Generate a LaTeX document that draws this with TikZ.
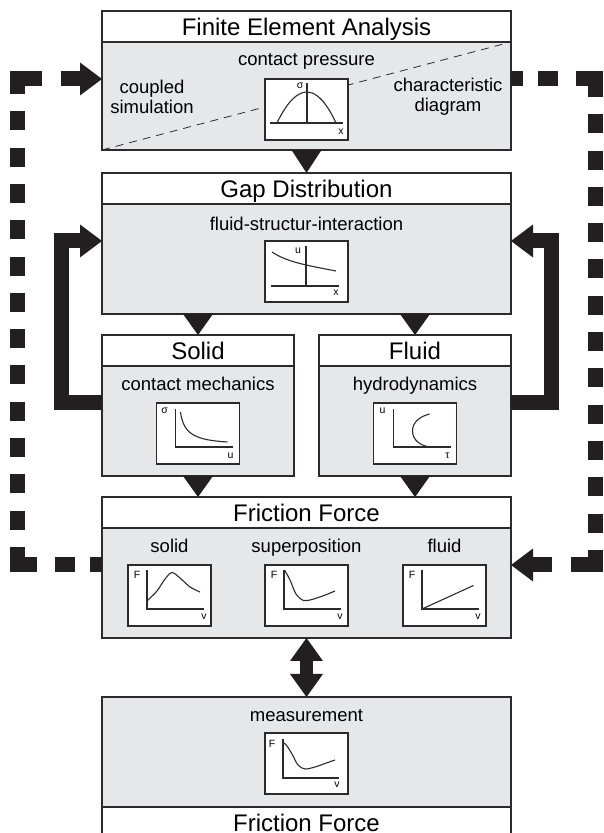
\documentclass[tikz,border=0pt]{standalone}
\usepackage{fontspec}
\setmainfont{Liberation Sans}
\usetikzlibrary{positioning, arrows.meta}

\definecolor{bodygray}{RGB}{230,231,232}
\definecolor{boxline}{RGB}{45,42,43}
\definecolor{arrowfill}{RGB}{35,31,32}

\tikzset{
  header/.style={draw=boxline, fill=white, line width=1.2pt, minimum width=409pt,
    minimum height=31pt, inner sep=0pt, outer sep=0pt, text height=17.2pt, text depth=0pt,
    font=\fontsize{24}{24}\selectfont},
  body/.style={draw=boxline, fill=bodygray, line width=1.2pt, minimum width=409pt,
    minimum height=110pt, inner sep=0pt, outer sep=0pt},
  half/.style={minimum width=192pt},
  lbl/.style={font=\fontsize{18.5}{20}\selectfont, inner sep=0pt, anchor=base},
  chart/.style={draw=boxline, fill=white, line width=1.3pt, minimum width=83pt,
    minimum height=61pt, inner sep=0pt, outer sep=0pt},
  axis/.style={draw=boxline, line width=1.1pt},
  curve/.style={draw=boxline, line width=1.1pt},
  tick/.style={font=\fontsize{10.5}{10.5}\selectfont, inner sep=0pt},
  diag/.style={draw=boxline, line width=0.8pt, dash pattern=on 8pt off 6pt},
  flow/.style={draw=arrowfill, line width=0.1pt,
    arrows={-Triangle[width=30pt,length=#1,line width=0pt]}},
  dbl/.style={draw=arrowfill, line width=13pt,
    arrows={Triangle[width=33pt,length=23pt,line width=0pt]-Triangle[width=33pt,length=23pt,line width=0pt]}},
  bracket/.style={draw=arrowfill, line width=15pt, line join=miter,
    arrows={-Triangle[width=33pt,length=22pt,line width=0pt]}},
  loopline/.style={draw=arrowfill, line width=15pt, line join=miter,
    dash pattern=on 12pt off 15pt on 20pt off 18pt on 37.5pt
      off 17.3pt on 19pt off 17.3pt on 19pt off 17.3pt on 19pt off 17.3pt on 19pt
      off 17.3pt on 19pt off 17.3pt on 19pt off 17.3pt on 19pt off 17.3pt on 19pt
      off 17.3pt on 19pt off 17.3pt on 19pt off 17.3pt on 19pt off 17.3pt on 19pt
      off 17.3pt on 39.5pt off 19pt on 60pt off 100pt,
    arrows={-Triangle[width=33pt,length=22pt,line width=0pt]}}
}

\begin{document}
\begin{tikzpicture}[x=1pt, y=1pt]
  \useasboundingbox (0,0) rectangle (603,833);

  % Define boxes
  \node[header] (feaT) at (306.5,806.5) {Finite Element Analysis};
  \node[body, minimum height=108pt, below=0pt of feaT] (fea) {};
  \node[header, below=23pt of fea] (gapT) {Gap Distribution};
  \node[body, below=0pt of gapT] (gap) {};
  \node[header, half, below=21pt of gap.south west, anchor=north west] (solidT) {Solid};
  \node[body, half, below=0pt of solidT] (solid) {};
  \node[header, half, below=21pt of gap.south east, anchor=north east] (fluidT) {Fluid};
  \node[body, half, below=0pt of fluidT] (fluid) {};
  \node[header, below=21pt of solid.south west, anchor=north west] (fricT) {Friction Force};
  \node[body, below=0pt of fricT] (fric) {};
  \node[body, below=59pt of fric] (meas) {};
  \node[header, below=0pt of meas] (measT) {Friction Force};

  % Diagonal in the analysis box
  \draw[diag] (fea.south west) -- (fea.north east);

  % Ports
  \coordinate (feaW) at ([yshift=-37pt]fea.north west);
  \coordinate (feaE) at ([yshift=-37pt]fea.north east);
  \coordinate (gapW) at ([yshift=-37pt]gap.north west);
  \coordinate (gapE) at ([yshift=-37pt]gap.north east);
  \coordinate (solidW) at ([yshift=-37pt]solid.north west);
  \coordinate (fluidE) at ([yshift=-37pt]fluid.north east);
  \coordinate (fricW) at ([yshift=-37pt]fric.north west);
  \coordinate (fricE) at ([yshift=-37pt]fric.north east);

  % Connect the boxes
  \draw[flow=23pt] (fea.south) -- (gapT.north);
  \draw[flow=21pt] (solidT.north |- gap.south) -- (solidT.north);
  \draw[flow=21pt] (fluidT.north |- gap.south) -- (fluidT.north);
  \draw[flow=21pt] (solid.south) -- (solid.south |- fricT.north);
  \draw[flow=21pt] (fluid.south) -- (fluid.south |- fricT.north);
  \draw[dbl] (fric.south) -- (meas.north);
  \draw[bracket] (solidW) -- ++(-40.5,0) |- (gapW);
  \draw[bracket] (fluidE) -- ++(40.5,0) |- (gapE);
  \draw[loopline] (fricW) -- ++(-84.5,0) |- (feaW);
  \draw[loopline] (feaE) -- ++(84.5,0) |- (fricE);

  % Labels
  \node[lbl] at ([yshift=-24pt]fea.north) {contact pressure};
  \node[lbl, anchor=center, align=center] at ([xshift=50pt,yshift=-55pt]fea.north west) {coupled\\simulation};
  \node[lbl, anchor=center, align=center] at ([xshift=-63pt,yshift=-55pt]fea.north east) {characteristic\\diagram};
  \node[lbl] at ([yshift=-27pt]gap.north) {fluid-structur-interaction};
  \node[lbl] at ([yshift=-25pt]solid.north) {contact mechanics};
  \node[lbl] at ([yshift=-25pt]fluid.north) {hydrodynamics};
  \node[lbl] at ([xshift=-137pt,yshift=-25pt]fric.north) {solid};
  \node[lbl] at ([yshift=-25pt]fric.north) {superposition};
  \node[lbl] at ([xshift=138pt,yshift=-25pt]fric.north) {fluid};
  \node[lbl] at ([yshift=-25pt]meas.north) {measurement};

  % Charts
  \node[chart, below=37pt of fea.north] (feachart) {};
  \node[chart, below=37pt of gap.north] (gapchart) {};
  \node[chart, below=37pt of solid.north] (solidchart) {};
  \node[chart, below=37pt of fluid.north] (fluidchart) {};
  \node[chart, below=37pt of fric.north, xshift=-137pt] (fsolidchart) {};
  \node[chart, below=37pt of fric.north] (fsupchart) {};
  \node[chart, below=37pt of fric.north, xshift=138pt] (ffluidchart) {};
  \node[chart, below=36pt of meas.north] (measchart) {};

  \begin{scope}[shift={(feachart.south west)}]
    \draw[axis] (5,17) -- (78,17);
    \draw[axis] (42,17) -- (42,57);
    \draw[curve] (12,17) parabola bend (42,48) (71,17);
    \node[tick] at (35,54) {σ};
    \node[tick] at (76,8) {x};
  \end{scope}
  \begin{scope}[shift={(gapchart.south west)}]
    \draw[axis] (6,16) -- (74,16);
    \draw[axis] (41,16) -- (41,56);
    \draw[curve] (7,50) .. controls (22,40) and (40,37) .. (71,31);
    \node[tick] at (33,51) {u};
    \node[tick] at (71,9) {x};
  \end{scope}
  \begin{scope}[shift={(solidchart.south west)}]
    \draw[axis] (19,55) -- (19,17) -- (76,17);
    \draw[curve] (24,52) .. controls (27,30) and (38,24) .. (71,22);
    \node[tick] at (8,53) {σ};
    \node[tick] at (74,8) {u};
  \end{scope}
  \begin{scope}[shift={(fluidchart.south west)}]
    \draw[axis] (20,55) -- (20,17) -- (77,17);
    \draw[curve] (56,50) to[out=195,in=90] (39,33) to[out=-90,in=175] (57,17);
    \node[tick] at (9,53) {u};
    \node[tick] at (74,8) {τ};
  \end{scope}
  \begin{scope}[shift={(fsolidchart.south west)}]
    \draw[axis] (19,56) -- (19,17) -- (76,17);
    \draw[curve] plot[smooth] coordinates {(19,25) (29,35) (37,47) (44,53.5) (52,48) (62,39) (72,34)};
    \node[tick] at (9,51) {F};
    \node[tick] at (76,9) {v};
  \end{scope}
  \begin{scope}[shift={(fsupchart.south west)}]
    \draw[axis] (19,56) -- (19,17) -- (76,17);
    \draw[curve] plot[smooth] coordinates {(19.5,56) (25,46) (31,32) (38.5,25.5) (47,26.5) (59,30.5) (70,35)};
    \node[tick] at (9,51) {F};
    \node[tick] at (75,9) {v};
  \end{scope}
  \begin{scope}[shift={(ffluidchart.south west)}]
    \draw[axis] (19,56) -- (19,17) -- (76,17);
    \draw[curve] (19,17) -- (70.5,40.5);
    \node[tick] at (9,51) {F};
    \node[tick] at (75,9) {v};
  \end{scope}
  \begin{scope}[shift={(measchart.south west)}]
    \draw[axis] (18,55) -- (18,16) -- (74,16);
    \draw[curve] plot[smooth] coordinates {(19,51) (22,48) (27,40) (33,29) (40,25) (50,27) (60,30.5) (70,34)};
    \node[tick] at (7,50) {F};
    \node[tick] at (72,9) {v};
  \end{scope}
\end{tikzpicture}
\end{document}
